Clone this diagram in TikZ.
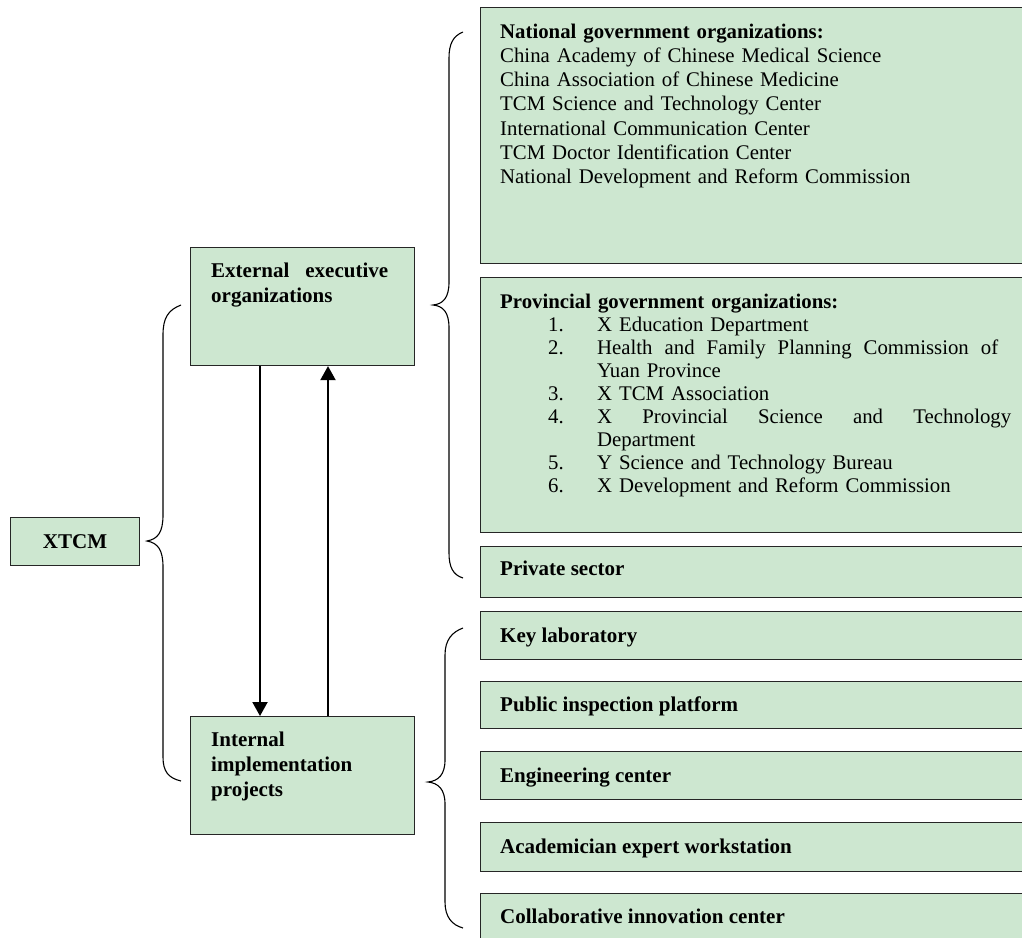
\documentclass[tikz,border=0pt]{standalone}
\usepackage{fontspec}
\setmainfont{Liberation Serif}
\usetikzlibrary{arrows.meta,calc}
\definecolor{boxgreen}{RGB}{205,231,208}
\newcommand\jline[2]{\hbox to #1{#2}}
\begin{document}
\begin{tikzpicture}[x=1pt,y=-1pt,
  box/.style={draw=black!85,line width=1.1pt,fill=boxgreen,inner sep=0pt,anchor=north west},
  ltxt/.style={inner sep=0pt,anchor=base west,text width=#1,font=\fontsize{21}{25}\selectfont\bfseries},
  rtxt/.style={inner sep=0pt,anchor=base west,text width=512pt,font=\fontsize{20.8}{#1}\selectfont},
  rhead/.style={inner sep=0pt,anchor=base west,font=\fontsize{21}{24}\selectfont\bfseries},
  bracestyle/.style={draw=black,line width=1.1pt},
  arr/.style={line width=2pt,-{Triangle[width=15pt,length=14pt]}}]
\useasboundingbox (0,0) rectangle (1022,937);

% left column
\node[box,minimum width=129pt,minimum height=48pt,font=\fontsize{21}{25}\selectfont\bfseries] (xtcm) at (10,517) {XTCM};
\node[box,minimum width=224pt,minimum height=118pt] (ext) at (190,247) {};
\node[ltxt=177pt] (extt) at ($(ext.north west)+(21,30)$) {\jline{177pt}{External\hfill executive}\\organizations};
\node[box,minimum width=224pt,minimum height=118pt] (int) at (190,716) {};
\node[ltxt=190pt] (intt) at ($(int.north west)+(21,30)$) {Internal\\implementation\\projects};

\draw[arr] ($(ext.south west)+(70,0)$) -- ($(int.north west)+(70,0)$);
\draw[arr] ($(int.north west)+(138,0)$) -- ($(ext.south west)+(138,0)$);

% right column, upper group
\node[box,minimum width=560pt,minimum height=256pt] (nat) at (480,7) {};
\node[rtxt=24.3pt] (natt) at ($(nat.north west)+(20,31)$) {\textbf{National government organizations:}\\
China Academy of Chinese Medical Science\\
China Association of Chinese Medicine\\
TCM Science and Technology Center\\
International Communication Center\\
TCM Doctor Identification Center\\
National Development and Reform Commission};

\node[box,minimum width=560pt,minimum height=255pt] (prov) at (480,277) {};
\node[rtxt=23pt] (provt) at ($(prov.north west)+(20,31)$) {\textbf{Provincial government organizations:}\\
\hspace*{48pt}\makebox[49pt][l]{1.}X Education Department\\
\hspace*{48pt}\makebox[49pt][l]{2.}\jline{401pt}{Health\hfill and\hfill Family\hfill Planning\hfill Commission\hfill of}\\
\hspace*{97pt}Yuan Province\\
\hspace*{48pt}\makebox[49pt][l]{3.}X TCM Association\\
\hspace*{48pt}\makebox[49pt][l]{4.}\jline{414pt}{X\hfill Provincial\hfill Science\hfill and\hfill Technology}\\
\hspace*{97pt}Department\\
\hspace*{48pt}\makebox[49pt][l]{5.}Y Science and Technology Bureau\\
\hspace*{48pt}\makebox[49pt][l]{6.}X Development and Reform Commission};

\node[box,minimum width=560pt,minimum height=51pt] (priv) at (480,546) {};
\node[rhead] (privt) at ($(priv.north west)+(20,29)$) {Private sector};

% right column, lower group
\node[box,minimum width=560pt,minimum height=48pt] (key) at (480,611) {};
\node[rhead] (keyt) at ($(key.north west)+(20,31)$) {Key laboratory};
\node[box,minimum width=560pt,minimum height=47pt] (pub) at (480,681) {};
\node[rhead] (pubt) at ($(pub.north west)+(20,30)$) {Public inspection platform};
\node[box,minimum width=560pt,minimum height=48pt] (eng) at (480,751) {};
\node[rhead] (engt) at ($(eng.north west)+(20,31)$) {Engineering center};
\node[box,minimum width=560pt,minimum height=49pt] (aca) at (480,822) {};
\node[rhead] (acat) at ($(aca.north west)+(20,31)$) {Academician expert workstation};
\node[box,minimum width=560pt,minimum height=60pt] (col) at (480,893) {};
\node[rhead] (colt) at ($(col.north west)+(20,30)$) {Collaborative innovation center};

% braces
\draw[bracestyle] (181,305) .. controls (168,310) and (163,318) .. (163,335) -- (163,515)
  .. controls (163,532) and (158,539) .. (147,541)
  .. controls (158,543) and (163,550) .. (163,567) -- (163,757)
  .. controls (163,771) and (168,778) .. (181,781);
\draw[bracestyle] (463,32) .. controls (453,36) and (449,44) .. (449,58) -- (449,282)
  .. controls (449,298) and (443,304) .. (433,305)
  .. controls (443,306) and (449,312) .. (449,328) -- (449,553)
  .. controls (449,567) and (453,575) .. (463,578);
\draw[bracestyle] (463,628) .. controls (452,632) and (445,640) .. (445,655) -- (445,760)
  .. controls (445,775) and (438,781) .. (428,782)
  .. controls (438,783) and (445,789) .. (445,804) -- (445,902)
  .. controls (445,917) and (452,925) .. (463,928);
\end{tikzpicture}
\end{document}
